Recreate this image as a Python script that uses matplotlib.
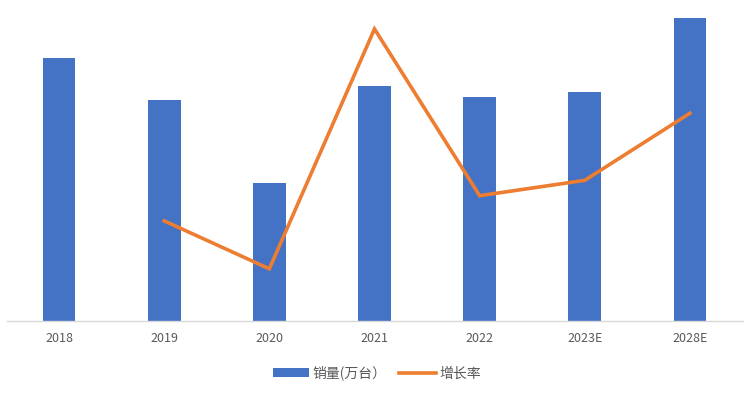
import matplotlib
matplotlib.use("Agg")
import matplotlib.pyplot as plt
from matplotlib.lines import Line2D
from matplotlib.patches import Patch

plt.rcParams['font.family'] = ['Noto Sans CJK SC', 'DejaVu Sans']

categories = ["2018", "2019", "2020", "2021", "2022", "2023E", "2028E"]
sales = [263, 221, 138, 235, 224, 229, 303]           # 销量(万台), relative scale
growth = [None, -16.0, -37.5, 70.1, -4.7, 2.2, 32.3]  # 增长率 (%)

W, H = 754, 396
fig = plt.figure(figsize=(W / 100, H / 100), dpi=100)
left, right = 6.5 / W, 742.5 / W
top_px, base_px = 10, 321
ax = fig.add_axes([left, 1 - base_px / H, right - left, (base_px - top_px) / H])

x = list(range(len(categories)))
ax.bar(x, sales, width=0.31, color="#4472C4", zorder=2)
ax.set_xlim(-0.5, len(categories) - 0.5)
ax.set_ylim(0, base_px - top_px)

ax.set_yticks([])
for s in ["left", "right", "top"]:
    ax.spines[s].set_visible(False)
ax.spines["bottom"].set_color("#D9D9D9")
ax.spines["bottom"].set_linewidth(1.0)
ax.set_xticks(x)
ax.set_xticklabels(categories, fontsize=9, color="#595959")
ax.tick_params(axis="x", length=0, pad=8)

ax2 = ax.twinx()
gx = [i for i, g in zip(x, growth) if g is not None]
gy = [g for g in growth if g is not None]
ax2.plot(gx, gy, color="#ED7D31", linewidth=2.6, zorder=3, solid_joinstyle="miter")
ax2.set_ylim(-60.9, 78.6)
ax2.set_yticks([])
for s in ["left", "right", "top", "bottom"]:
    ax2.spines[s].set_visible(False)

handles = [Patch(facecolor="#4472C4", edgecolor="none"),
           Line2D([0], [0], color="#ED7D31", linewidth=2.6)]
fig.legend(handles, ["销量(万台）", "增长率"], loc="center",
           bbox_to_anchor=(0.5, 1 - 373 / H), ncol=2, frameon=False,
           fontsize=10, labelcolor="#595959", handlelength=2.6,
           handleheight=0.6, columnspacing=0.9, handletextpad=0.3)

fig.savefig("out.png", dpi=100, facecolor="white")
